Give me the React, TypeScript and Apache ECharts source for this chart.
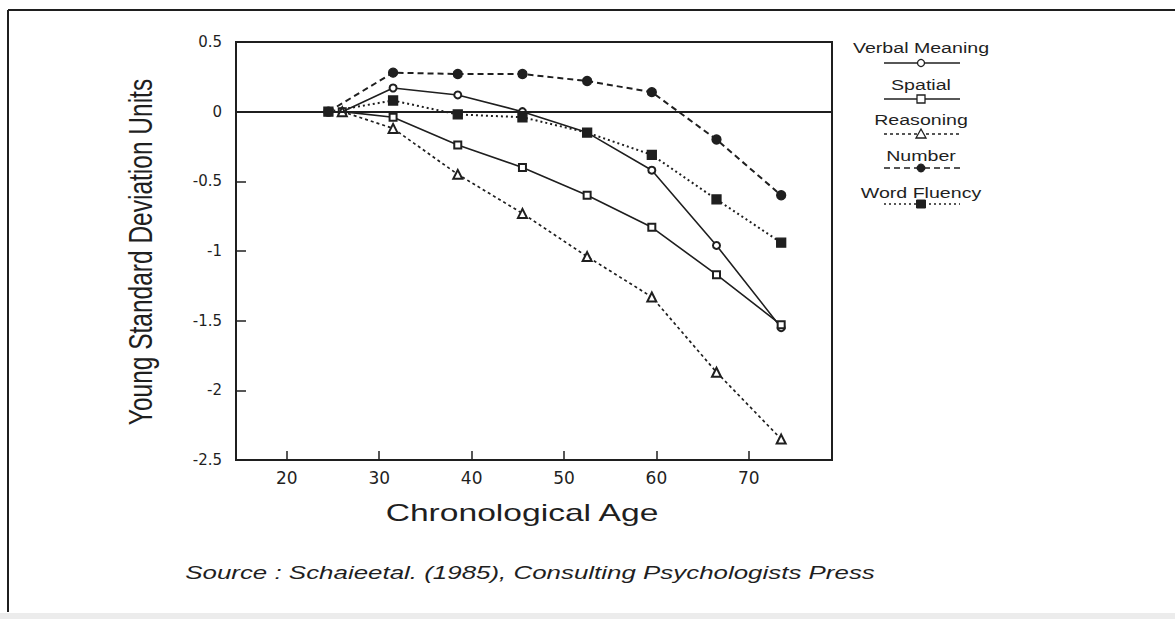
import React, { useEffect, useRef } from "react";
import * as echarts from "echarts";

// ---- data ----
const seriesNames = ["Verbal Meaning", "Spatial", "Reasoning", "Number", "Word Fluency"];
const agesOpenStart = [26, 31.5, 38.5, 45.5, 52.5, 59.5, 66.5, 73.5];
const agesFilledStart = [24.5, 31.5, 38.5, 45.5, 52.5, 59.5, 66.5, 73.5];
const verbalMeaning = [0, 0.17, 0.12, 0.0, -0.15, -0.42, -0.96, -1.55];
const spatial = [0, -0.04, -0.24, -0.4, -0.6, -0.83, -1.17, -1.53];
const reasoning = [0, -0.12, -0.45, -0.73, -1.04, -1.33, -1.87, -2.35];
const numberSkill = [0, 0.28, 0.27, 0.27, 0.22, 0.14, -0.2, -0.6];
const wordFluency = [0, 0.08, -0.02, -0.04, -0.15, -0.31, -0.63, -0.94];
const xTickValues = [20, 30, 40, 50, 60, 70];
const xTitle = "Chronological Age";
const yTitle = "Young Standard Deviation Units";
const sourceText = "Source : Schaieetal. (1985), Consulting Psychologists Press";

const INK = "#1f1f1f";
const FONT = "Liberation Sans, Arial, sans-serif";

const pairs = (ages: number[], vals: number[]) => vals.map((v, i) => [ages[i], v]);

export default function App() {
  const ref = useRef<HTMLDivElement>(null);
  useEffect(() => {
    if (!ref.current) return;
    const chart = echarts.init(ref.current, undefined, { renderer: "svg" });

    const legendDefs = [
      { name: seriesNames[0], ty: 48, ly: 63, dash: null as any, marker: "openCircle" },
      { name: seriesNames[1], ty: 85, ly: 99, dash: null as any, marker: "openRect" },
      { name: seriesNames[2], ty: 120, ly: 134, dash: [3, 3], marker: "openTriangle" },
      { name: seriesNames[3], ty: 156, ly: 168, dash: [6, 4], marker: "circle" },
      { name: seriesNames[4], ty: 193, ly: 204, dash: [2, 3], marker: "rect" },
    ];
    const cx = 921;
    const legendGraphics: any[] = [];
    legendDefs.forEach((d) => {
      legendGraphics.push({
        type: "text",
        x: cx,
        y: d.ty,
        scaleX: 1.4,
        style: {
          text: d.name,
          fontSize: 14,
          fontFamily: FONT,
          fill: INK,
          align: "center",
          verticalAlign: "middle",
        },
      });
      legendGraphics.push({
        type: "line",
        shape: { x1: 884, y1: d.ly, x2: 960, y2: d.ly },
        style: { stroke: INK, lineWidth: 1.6, lineDash: d.dash || undefined },
      });
      const open = { fill: "#fff", stroke: INK, lineWidth: 1.3 };
      const filled = { fill: INK, stroke: INK, lineWidth: 1 };
      if (d.marker === "openCircle")
        legendGraphics.push({ type: "circle", shape: { cx, cy: d.ly, r: 3.5 }, style: open });
      if (d.marker === "openRect")
        legendGraphics.push({ type: "rect", shape: { x: cx - 4, y: d.ly - 4, width: 8, height: 8 }, style: open });
      if (d.marker === "openTriangle")
        legendGraphics.push({
          type: "polygon",
          shape: { points: [[cx, d.ly - 5], [cx + 5, d.ly + 4], [cx - 5, d.ly + 4]] },
          style: open,
        });
      if (d.marker === "circle")
        legendGraphics.push({ type: "circle", shape: { cx, cy: d.ly, r: 4 }, style: filled });
      if (d.marker === "rect")
        legendGraphics.push({ type: "rect", shape: { x: cx - 4.5, y: d.ly - 4, width: 9, height: 8 }, style: filled });
    });

    const lineSeries = (name: string, data: number[][], symbol: string, size: number, type: any, width: number) => ({
      name,
      type: "line",
      data,
      symbol,
      symbolSize: size,
      showSymbol: true,
      lineStyle: { color: INK, width, type },
      itemStyle: { color: INK, borderColor: INK, borderWidth: 1.3 },
      z: 3,
    });

    chart.setOption({
      animation: false,
      backgroundColor: "#ffffff",
      textStyle: { fontFamily: FONT, color: INK },
      grid: {
        left: 236,
        right: 343,
        top: 42,
        bottom: 159,
        show: true,
        borderColor: INK,
        borderWidth: 2,
        backgroundColor: "transparent",
      },
      xAxis: {
        type: "value",
        min: 14.5,
        max: 79,
        axisLine: { show: true, onZero: false, lineStyle: { color: INK, width: 2 } },
        axisTick: { show: true, inside: true, length: 9, customValues: xTickValues, lineStyle: { color: INK, width: 1.5 } },
        axisLabel: { customValues: xTickValues, margin: 9, fontSize: 17, color: INK, fontFamily: "DejaVu Sans" },
        splitLine: { show: false },
      },
      yAxis: {
        type: "value",
        min: -2.5,
        max: 0.5,
        interval: 0.5,
        axisLine: { show: true, onZero: false, lineStyle: { color: INK, width: 2 } },
        axisTick: { show: true, inside: true, length: 10, lineStyle: { color: INK, width: 1.5 } },
        axisLabel: { margin: 14, fontSize: 15, color: INK, fontFamily: "DejaVu Sans" },
        splitLine: { show: false },
      },
      series: [
        lineSeries(seriesNames[0], pairs(agesOpenStart, verbalMeaning), "emptyCircle", 7, "solid", 1.6),
        lineSeries(seriesNames[1], pairs(agesOpenStart, spatial), "emptyRect", 7, "solid", 1.6),
        lineSeries(seriesNames[2], pairs(agesOpenStart, reasoning), "emptyTriangle", 9, [3, 3], 1.7),
        {
          ...lineSeries(seriesNames[3], pairs(agesFilledStart, numberSkill), "circle", 9, [6, 4], 2),
          markLine: {
            silent: true,
            symbol: ["none", "none"],
            label: { show: false },
            lineStyle: { type: "solid", color: INK, width: 2 },
            data: [{ yAxis: 0 }],
          },
        },
        lineSeries(seriesNames[4], pairs(agesFilledStart, wordFluency), "rect", 9, [2, 3], 2),
      ],
      graphic: [
        // outer frame
        { type: "line", shape: { x1: 8, y1: 10, x2: 1175, y2: 10 }, style: { stroke: INK, lineWidth: 2 } },
        { type: "line", shape: { x1: 8, y1: 10, x2: 8, y2: 612 }, style: { stroke: INK, lineWidth: 2 } },
        { type: "rect", shape: { x: 0, y: 613, width: 1175, height: 6 }, style: { fill: "#ececec" } },
        // axis titles
        {
          type: "text",
          x: 522,
          y: 513,
          scaleX: 1.4,
          style: { text: xTitle, fontSize: 24, fontFamily: FONT, fill: INK, align: "center", verticalAlign: "middle" },
        },
        {
          type: "text",
          x: 141,
          y: 252,
          rotation: Math.PI / 2,
          scaleY: 1.35,
          style: { text: yTitle, fontSize: 24.5, fontFamily: FONT, fill: INK, align: "center", verticalAlign: "middle" },
        },
        {
          type: "text",
          x: 530,
          y: 573,
          scaleX: 1.44,
          style: {
            text: sourceText,
            fontSize: 18,
            fontStyle: "italic",
            fontFamily: FONT,
            fill: INK,
            align: "center",
            verticalAlign: "middle",
          },
        },
        ...legendGraphics,
      ],
    });
    return () => chart.dispose();
  }, []);
  return (
    <div
      ref={ref}
      style={{ position: "absolute", left: 0, top: 0, width: 1175, height: 619, background: "#fff" }}
    />
  );
}
